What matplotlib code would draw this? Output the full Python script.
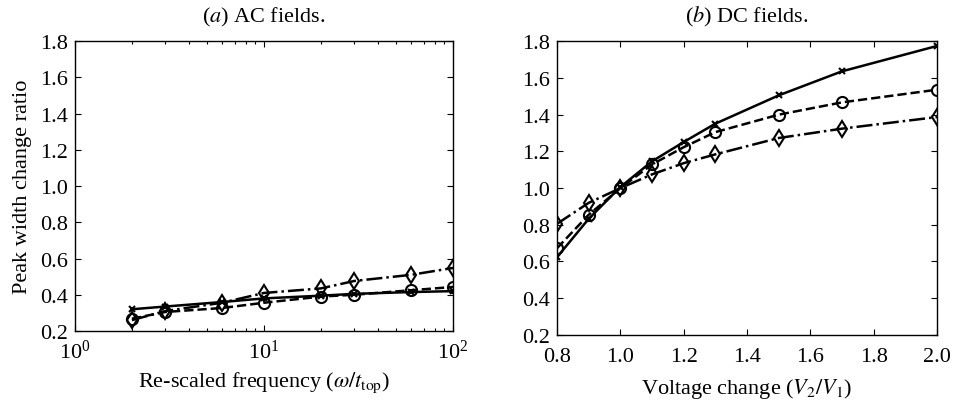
import numpy as np
import matplotlib.pyplot as plt

plt.rcParams['font.family'] = ['Liberation Serif', 'DejaVu Serif']
plt.rcParams['mathtext.fontset'] = 'stix'
plt.rcParams['font.size'] = 16

# (a) AC fields
ac_freq = [2, 3, 6, 10, 20, 30, 60, 100]
ac_cross = [0.32, 0.335, 0.36, 0.38, 0.395, 0.405, 0.415, 0.42]
ac_circle = [0.268, 0.305, 0.327, 0.356, 0.39, 0.40, 0.425, 0.443]
ac_diamond = [0.26, 0.31, 0.356, 0.41, 0.435, 0.476, 0.51, 0.548]

# (b) DC fields
dc_volt = [0.8, 0.9, 1.0, 1.1, 1.2, 1.3, 1.5, 1.7, 2.0]
dc_cross = [0.623, 0.832, 1.005, 1.145, 1.25, 1.35, 1.504, 1.635, 1.773]
dc_circle = [0.672, 0.854, 0.999, 1.128, 1.222, 1.304, 1.399, 1.466, 1.535]
dc_diamond = [0.805, 0.919, 0.999, 1.074, 1.135, 1.183, 1.272, 1.323, 1.386]

yticks = [0.2, 0.4, 0.6, 0.8, 1.0, 1.2, 1.4, 1.6, 1.8]
xticks_dc = [0.8, 1.0, 1.2, 1.4, 1.6, 1.8, 2.0]

fig = plt.figure(figsize=(9.56, 4.02), dpi=100)
ax1 = fig.add_axes([0.0785, 0.1741, 0.3954, 0.7214])
ax2 = fig.add_axes([0.5826, 0.1642, 0.3975, 0.7313])

def draw(ax, x, ys):
    styles = [('-', 'x', 5), ('--', 'o', 8), ('-.', 'd', 8.5)]
    for y, (ls, mk, ms) in zip(ys, styles):
        ax.plot(x, y, color='black', linestyle=ls, linewidth=1.8, marker=mk,
                markersize=ms, markerfacecolor='none', markeredgecolor='black',
                markeredgewidth=1.5)

draw(ax1, ac_freq, [ac_cross, ac_circle, ac_diamond])
ax1.set_xscale('log')
ax1.set_xlim(1, 100)
ax1.set_ylim(0.2, 1.8)
ax1.set_yticks(yticks)
ax1.set_yticklabels(['%.1f' % v for v in yticks])
ax1.set_xlabel(r'Re-scaled frequency ($\omega/t_{\rm top}$)', labelpad=5)
ax1.set_ylabel('Peak width change ratio', labelpad=6)
ax1.set_title(r'($a$) AC fields.', pad=14, fontsize=16)

draw(ax2, dc_volt, [dc_cross, dc_circle, dc_diamond])
ax2.set_xlim(0.8, 2.0)
ax2.set_ylim(0.2, 1.8)
ax2.set_xticks(xticks_dc)
ax2.set_xticklabels(['%.1f' % v for v in xticks_dc])
ax2.set_yticks(yticks)
ax2.set_yticklabels(['%.1f' % v for v in yticks])
ax2.set_xlabel(r'Voltage change ($V_2/V_1$)', labelpad=7)
ax2.set_title(r'($b$) DC fields.', pad=14, fontsize=16)

for ax in (ax1, ax2):
    ax.tick_params(which='both', direction='in', top=True, right=True)
    ax.tick_params(which='major', length=4, width=0.8, pad=5)
    ax.tick_params(which='minor', length=2.5, width=0.8)
    for s in ax.spines.values():
        s.set_linewidth(1.0)
ax1.tick_params(axis='x', which='major', pad=6)
ax2.tick_params(axis='x', which='major', pad=9)

fig.savefig('out.png', dpi=100)
